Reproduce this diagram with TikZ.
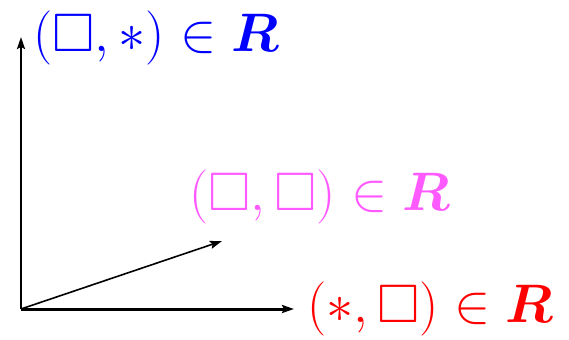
\documentclass[tikz,border=0pt]{standalone}
\usepackage{amsmath,amssymb}
\usepackage{tikz}
\usetikzlibrary{arrows.meta, positioning}
\definecolor{PairBlue}   {RGB}{0,   0,   255}
\definecolor{PairPink}   {RGB}{255, 90,  255}
\definecolor{PairRed}    {RGB}{255, 0,   0}

\begin{document}
\begin{tikzpicture}[
  x=0.5pt, y=-0.5pt,
  axis/.style = {-{Stealth[length=6pt, width=4pt, inset=1pt]}, line width=1pt},
  vec/.style  = {-{Stealth[length=6pt, width=4pt, inset=1pt]}, line width=0.8pt},
  pair/.style = {anchor=west, inner sep=0pt, font=\Huge, scale=1.09, transform shape}
]
\useasboundingbox (0,0) rectangle (569,339);

% Axes
\coordinate (origin) at (21,309);
\coordinate (ytip)   at (21,37);
\coordinate (xtip)   at (294,309);
\coordinate (dtip)   at (222,241);

\draw[axis] (origin) -- (ytip);
\draw[axis, line width=1.5pt] (origin) -- (xtip);
\draw[vec] (origin) -- (dtip);

% Labels
\node[pair, text=PairBlue] (boxstar) at (33,38)
  {$(\Box,*)\in\boldsymbol{R}$};
\node[pair, text=PairPink] (boxbox) at (189,197)
  {$(\Box,\Box)\in\boldsymbol{R}$};
\node[pair, text=PairRed] (starbox) at (307,309)
  {$(*,\Box)\in\boldsymbol{R}$};

\end{tikzpicture}
\end{document}
